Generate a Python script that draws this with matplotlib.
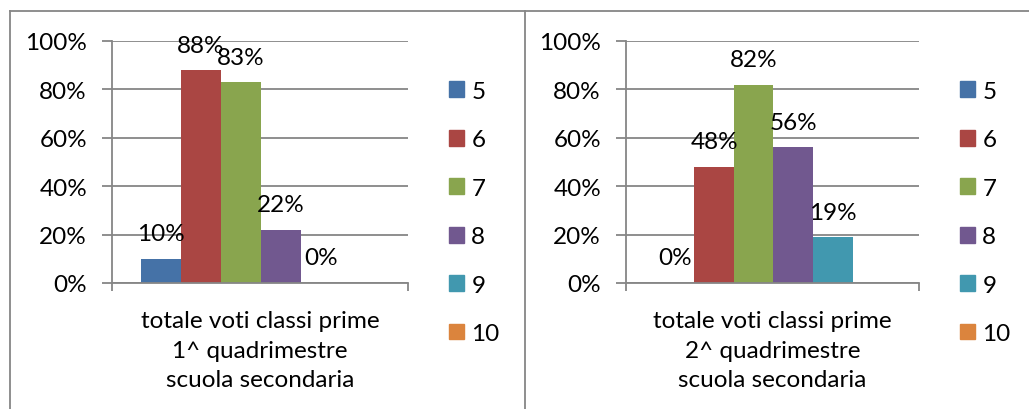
import numpy as np
import matplotlib.pyplot as plt
from matplotlib.lines import Line2D
from matplotlib.patches import Patch

plt.rcParams['font.family'] = ['Lato', 'DejaVu Sans']
plt.rcParams['font.size'] = 17.5

voti = ["5", "6", "7", "8", "9", "10"]
colori = ["#4572A7", "#AA4643", "#89A54E", "#71588F", "#4198AF", "#DB843D"]
# None = nessun valore (barra e etichetta assenti)
quad1 = [0.10, 0.88, 0.83, 0.22, 0.0, None]
quad2 = [0.0, 0.48, 0.82, 0.56, 0.19, None]
titoli = ["totale voti classi prime\n1^ quadrimestre\nscuola secondaria",
          "totale voti classi prime\n2^ quadrimestre\nscuola secondaria"]
yticks = [0, 0.2, 0.4, 0.6, 0.8, 1.0]
ylabels = ["0%", "20%", "40%", "60%", "80%", "100%"]

grigio = "#868686"
W, H = 1029, 410
fig = plt.figure(figsize=(W / 100, H / 100), dpi=100)

pannelli = [(112, 296, quad1, titoli[0], 449), (626, 293, quad2, titoli[1], 960)]
for x0, w, valori, titolo, xleg in pannelli:
    ax = fig.add_axes([x0 / W, 1 - 284 / H, w / W, (284 - 42) / H])
    for i, v in enumerate(valori):
        if v is None:
            continue
        ax.bar(i, v, width=1.0, color=colori[i])
        ax.annotate("%d%%" % round(v * 100), (i, v), xytext=(0, 18),
                    textcoords="offset points", ha="center", va="center")
    ax.set_xlim(-1.23, 6.18)
    ax.set_ylim(0, 1)
    ax.set_yticks(yticks)
    ax.set_yticklabels(ylabels)
    ax.set_xticks([-1.23, 6.18])
    ax.set_xticklabels(["", ""])
    ax.tick_params(axis="y", direction="out", length=7, width=1.3, color=grigio, pad=11)
    ax.tick_params(axis="x", direction="out", length=6, width=1.3, color=grigio)
    ax.yaxis.grid(True, color=grigio, linewidth=1.3)
    ax.set_axisbelow(True)
    for s in ["top", "right"]:
        ax.spines[s].set_visible(False)
    for s in ["left", "bottom"]:
        ax.spines[s].set_color(grigio)
        ax.spines[s].set_linewidth(1.3)
    ax.spines["left"].set_zorder(0.5)
    ax.text(0.5, -0.277, titolo, transform=ax.transAxes, ha="center", va="center",
            linespacing=1.5)

    maniglie = [Patch(color=c) for c in colori]
    fig.legend(maniglie, voti, loc="center left",
               bbox_to_anchor=(xleg / W, 1 - 213.5 / H), frameon=False,
               handlelength=0.62, handleheight=0.62, handletextpad=0.3,
               labelspacing=1.13, borderaxespad=0, borderpad=0)

# bordi dei riquadri
ytop = 1 - 12 / H
fig.add_artist(Line2D([10 / W, 1], [ytop, ytop], color=grigio, linewidth=1.3))
fig.add_artist(Line2D([10 / W, 10 / W], [0, ytop], color=grigio, linewidth=1.3))
fig.add_artist(Line2D([525 / W, 525 / W], [0, ytop], color=grigio, linewidth=1.3))

plt.savefig("out.png", dpi=100)
